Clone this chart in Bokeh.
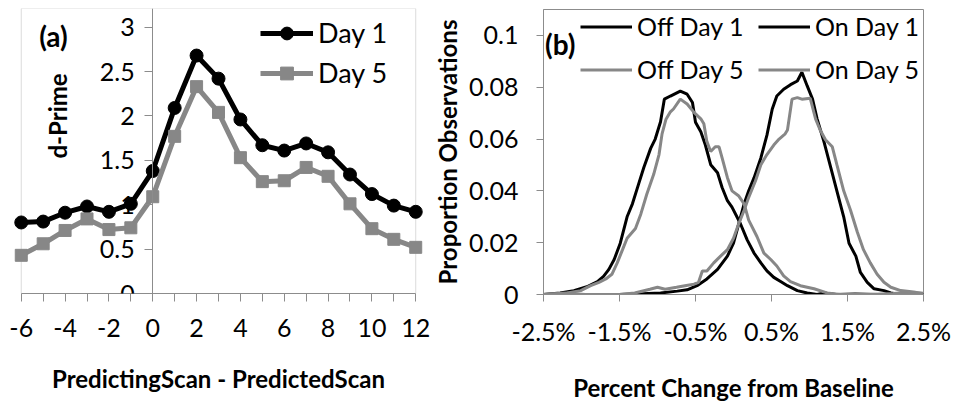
from bokeh.plotting import figure
from bokeh.layouts import row
from bokeh.models import FixedTicker, Legend, LegendItem, Label, BoxAnnotation
from bokeh.embed import file_html
from bokeh.resources import INLINE

FONT = "Lato"
BLACK = "#000000"
GRAY = "#878787"
FRAME = "#8c8c8c"

# ---------------- panel (a) data ----------------
scan_offset = [-6, -5, -4, -3, -2, -1, 0, 1, 2, 3, 4, 5, 6, 7, 8, 9, 10, 11, 12]
dprime_day1 = [0.80, 0.81, 0.91, 0.98, 0.92, 1.01, 1.38, 2.09, 2.68, 2.42, 1.96,
               1.67, 1.61, 1.69, 1.59, 1.34, 1.12, 0.99, 0.92]
dprime_day5 = [0.43, 0.56, 0.71, 0.84, 0.72, 0.74, 1.09, 1.77, 2.33, 2.04, 1.53,
               1.26, 1.27, 1.42, 1.32, 1.01, 0.73, 0.61, 0.52]
a_xticks = [-6, -4, -2, 0, 2, 4, 6, 8, 10, 12]
a_xlabels = ["-6", "-4", "-2", "0", "2", "4", "6", "8", "10", "12"]
a_xminor = [-5, -3, -1, 1, 3, 5, 7, 9, 11]
a_yticks = [0, 0.5, 1, 1.5, 2, 2.5, 3]
a_ylabels = ["0", "0.5", "1", "1.5", "2", "2.5", "3"]

# ---------------- panel (b) data ----------------
off_day1_x = [-2.5, -2.28, -2.10, -1.93, -1.79, -1.71, -1.64, -1.57, -1.49, -1.40, -1.33,
              -1.25, -1.18, -1.09, -1.03, -0.96, -0.91, -0.83, -0.70, -0.61, -0.54, -0.50,
              -0.43, -0.37, -0.30, -0.21, -0.15, -0.08, -0.02, 0.09, 0.18, 0.27, 0.36,
              0.44, 0.53, 0.62, 0.71, 0.84, 0.97, 1.10, 1.19, 1.35, 1.60, 1.90, 2.50]
off_day1_y = [0.0, 0.0006, 0.0015, 0.003, 0.005, 0.007, 0.0097, 0.0135, 0.0198, 0.030, 0.035,
              0.0425, 0.049, 0.0564, 0.060, 0.0667, 0.0754, 0.0766, 0.0785, 0.0773, 0.0741, 0.0665,
              0.0628, 0.0577, 0.0501, 0.047, 0.0413, 0.0362, 0.0337, 0.0274, 0.0211, 0.016, 0.0122,
              0.0091, 0.0066, 0.0050, 0.0034, 0.0015, 0.0006, 0.0, 0.0006, 0.0, 0.0002, 0.0, 0.0]

off_day5_x = [-2.5, -2.19, -2.01, -1.88, -1.77, -1.68, -1.60, -1.53, -1.46, -1.40, -1.29,
              -1.22, -1.14, -1.05, -0.98, -0.94, -0.89, -0.83, -0.79, -0.70, -0.61, -0.52,
              -0.43, -0.39, -0.35, -0.30, -0.24, -0.19, -0.15, -0.08, -0.02, 0.07, 0.14,
              0.20, 0.31, 0.40, 0.49, 0.57, 0.66, 0.75, 0.88, 1.06, 1.23, 1.40, 1.80,
              2.10, 2.30, 2.50]
off_day5_y = [0.0, 0.0006, 0.0015, 0.0034, 0.0047, 0.006, 0.0078, 0.0122, 0.0173, 0.0217, 0.0255,
              0.031, 0.0388, 0.0464, 0.054, 0.062, 0.0675, 0.0705, 0.0716, 0.0754, 0.0735, 0.0703,
              0.0678, 0.0659, 0.059, 0.0552, 0.057, 0.057, 0.0527, 0.0451, 0.040, 0.038, 0.035,
              0.0287, 0.0223, 0.016, 0.0135, 0.011, 0.0072, 0.0050, 0.0034, 0.0022, 0.0006, 0.0, 0.0,
              0.0004, 0.0008, 0.0005]

on_day1_x = [-2.5, -1.5, -1.2, -0.96, -0.74, -0.61, -0.48, -0.35, -0.21, -0.08, 0.0, 0.07,
             0.14, 0.20, 0.27, 0.36, 0.44, 0.51, 0.57, 0.66, 0.75, 0.84, 0.90, 0.97, 1.04,
             1.10, 1.19, 1.28, 1.36, 1.45, 1.52, 1.61, 1.67, 1.76, 1.85, 1.98, 2.07, 2.20, 2.50]
on_day1_y = [0.0, 0.0, 0.0003, 0.0006, 0.0013, 0.0018, 0.0034, 0.006, 0.0097, 0.0148, 0.0198, 0.0274,
             0.035, 0.040, 0.045, 0.0527, 0.0615, 0.0716, 0.0766, 0.0792, 0.0810, 0.0824, 0.0858, 0.0805, 0.0754,
             0.0678, 0.059, 0.049, 0.040, 0.030, 0.0198, 0.0148, 0.0085, 0.0047, 0.0022, 0.0015, 0.0006, 0.0, 0.0]

on_day5_x = [-2.5, -2.2, -1.95, -1.5, -1.3, -1.1, -1.0, -0.9, -0.75, -0.62, -0.52, -0.46,
             -0.41, -0.35, -0.26, -0.17, -0.08, 0.0, 0.07, 0.14, 0.20, 0.29, 0.36, 0.44,
             0.53, 0.60, 0.68, 0.71, 0.77, 0.84, 0.90, 1.01, 1.08, 1.14, 1.21, 1.30, 1.36,
             1.45, 1.54, 1.63, 1.71, 1.80, 1.89, 1.98, 2.07, 2.20, 2.37, 2.50]
on_day5_y = [0.0, 0.0005, 0.0, 0.0, 0.0006, 0.002, 0.0028, 0.002, 0.0028, 0.0035, 0.0040, 0.0047,
             0.0091, 0.0091, 0.0122, 0.0148, 0.0173, 0.0217, 0.0274, 0.0325, 0.0375, 0.0439, 0.0501, 0.054,
             0.0577, 0.060, 0.062, 0.0635, 0.0754, 0.0760, 0.0754, 0.0757, 0.0678, 0.0635, 0.0597, 0.057, 0.0501,
             0.040, 0.0325, 0.024, 0.0173, 0.0122, 0.0078, 0.0047, 0.0028, 0.0015, 0.0010, 0.0003]

b_xticks = [-2.5, -1.5, -0.5, 0.5, 1.5, 2.5]
b_xlabels = ["-2.5%", "-1.5%", "-0.5%", "0.5%", "1.5%", "2.5%"]
b_yticks = [0.0, 0.02, 0.04, 0.06, 0.08, 0.1]
b_ylabels = ["0", "0.02", "0.04", "0.06", "0.08", "0.1"]


def style_axis(ax, tick_out):
    ax.axis_line_color = FRAME
    ax.major_tick_line_color = FRAME
    ax.minor_tick_line_color = FRAME
    ax.major_tick_out = tick_out
    ax.major_tick_in = 0
    ax.minor_tick_in = 0
    ax.major_label_text_font = FONT
    ax.major_label_text_font_size = "25px"
    ax.major_label_text_color = BLACK
    ax.axis_label_text_font = FONT
    ax.axis_label_text_font_size = "24px"
    ax.axis_label_text_font_style = "bold"
    ax.axis_label_text_color = BLACK


def text_label(x, y, text, angle=0.0, size="24px"):
    return Label(x=x, y=y, text=text, angle=angle, text_font=FONT, text_font_size=size,
                 text_font_style="bold", text_color=BLACK,
                 text_align="center", text_baseline="middle")


# ================= panel (a) =================
pa = figure(width=430, height=404, x_range=(-6.4, 12.4), y_range=(0, 3.21),
            output_backend="svg", toolbar_location=None, frame_align=False,
            min_border_left=12, min_border_right=6, min_border_top=8, min_border_bottom=111)
pa.grid.visible = False
pa.outline_line_color = None
pa.add_layout(BoxAnnotation(left=-6, right=12, bottom=0, top=None, fill_alpha=0,
                            line_color=FRAME, line_width=1, level="underlay"))

pa.xaxis.ticker = FixedTicker(ticks=a_xticks, minor_ticks=a_xminor)
pa.xaxis.major_label_overrides = {float(t): s for t, s in zip(a_xticks, a_xlabels)}
style_axis(pa.xaxis[0], 8)
pa.xaxis.bounds = (-6, 12)
pa.xaxis.minor_tick_out = 8
pa.xaxis.major_label_standoff = 17
pa.xaxis.axis_label = "PredictingScan - PredictedScan"
pa.xaxis.axis_label_standoff = 24

pa.yaxis.fixed_location = 0
pa.yaxis.ticker = FixedTicker(ticks=a_yticks, minor_ticks=[])
pa.yaxis.major_label_overrides = {float(t): s for t, s in zip(a_yticks, a_ylabels)}
style_axis(pa.yaxis[0], 8)
pa.yaxis.minor_tick_out = 0
pa.yaxis.major_label_standoff = 10

l1 = pa.line(scan_offset, dprime_day1, line_color=BLACK, line_width=5)
s1 = pa.scatter(scan_offset, dprime_day1, marker="circle", size=13,
                fill_color=BLACK, line_color=BLACK)
l5 = pa.line(scan_offset, dprime_day5, line_color=GRAY, line_width=5)
s5 = pa.scatter(scan_offset, dprime_day5, marker="square", size=12,
                fill_color=GRAY, line_color=GRAY)

leg_a = Legend(items=[LegendItem(label="Day 1", renderers=[l1, s1]),
                      LegendItem(label="Day 5", renderers=[l5, s5])],
               location=(248, 204), orientation="vertical",
               glyph_width=53, glyph_height=32, label_height=32, label_standoff=5,
               spacing=7, padding=0, margin=0,
               border_line_alpha=0, background_fill_alpha=0,
               label_text_font=FONT, label_text_font_size="27px", label_text_color=BLACK)
pa.add_layout(leg_a)

pa.add_layout(text_label(-4.53, 2.90, "(a)", size="28px"))
pa.add_layout(text_label(-4.35, 2.0, "d-Prime", angle=1.5708))

# ================= panel (b) =================
pb = figure(width=525, height=404, x_range=(-2.5, 2.5), y_range=(0, 0.11),
            output_backend="svg", toolbar_location=None, frame_align=False,
            min_border_left=113, min_border_right=32, min_border_top=9, min_border_bottom=105)
pb.grid.visible = False
pb.outline_line_color = FRAME

pb.xaxis.ticker = FixedTicker(ticks=b_xticks, minor_ticks=[])
pb.xaxis.major_label_overrides = {float(t): s for t, s in zip(b_xticks, b_xlabels)}
style_axis(pb.xaxis[0], 7)
pb.xaxis.minor_tick_out = 0
pb.xaxis.major_label_standoff = 14
pb.xaxis.axis_label = "Percent Change from Baseline"
pb.xaxis.axis_label_standoff = 24

pb.yaxis.ticker = FixedTicker(ticks=b_yticks, minor_ticks=[])
pb.yaxis.major_label_overrides = {float(t): s for t, s in zip(b_yticks, b_ylabels)}
style_axis(pb.yaxis[0], 7)
pb.yaxis.minor_tick_out = 0
pb.yaxis.major_label_standoff = 18
pb.yaxis.axis_label = "Proportion Observations"
pb.yaxis.axis_label_standoff = 4

r_off1 = pb.line(off_day1_x, off_day1_y, line_color=BLACK, line_width=3)
r_on1 = pb.line(on_day1_x, on_day1_y, line_color=BLACK, line_width=3)
r_off5 = pb.line(off_day5_x, off_day5_y, line_color=GRAY, line_width=3)
r_on5 = pb.line(on_day5_x, on_day5_y, line_color=GRAY, line_width=3)

common = dict(orientation="vertical", glyph_width=52, glyph_height=29, label_height=29,
              label_standoff=5, spacing=13, padding=0, margin=0,
              border_line_alpha=0, background_fill_alpha=0,
              label_text_font=FONT, label_text_font_size="25px", label_text_color=BLACK)
leg_b1 = Legend(items=[LegendItem(label="Off Day 1", renderers=[r_off1]),
                       LegendItem(label="Off Day 5", renderers=[r_off5])],
                location=(37, 210), **common)
leg_b2 = Legend(items=[LegendItem(label="On Day 1", renderers=[r_on1]),
                       LegendItem(label="On Day 5", renderers=[r_on5])],
                location=(215, 210), **common)
pb.add_layout(leg_b1)
pb.add_layout(leg_b2)

pb.add_layout(text_label(-2.28, 0.0967, "(b)", size="28px"))

layout = row(pa, pb)
open("out.html", "w").write(file_html(layout, INLINE))
